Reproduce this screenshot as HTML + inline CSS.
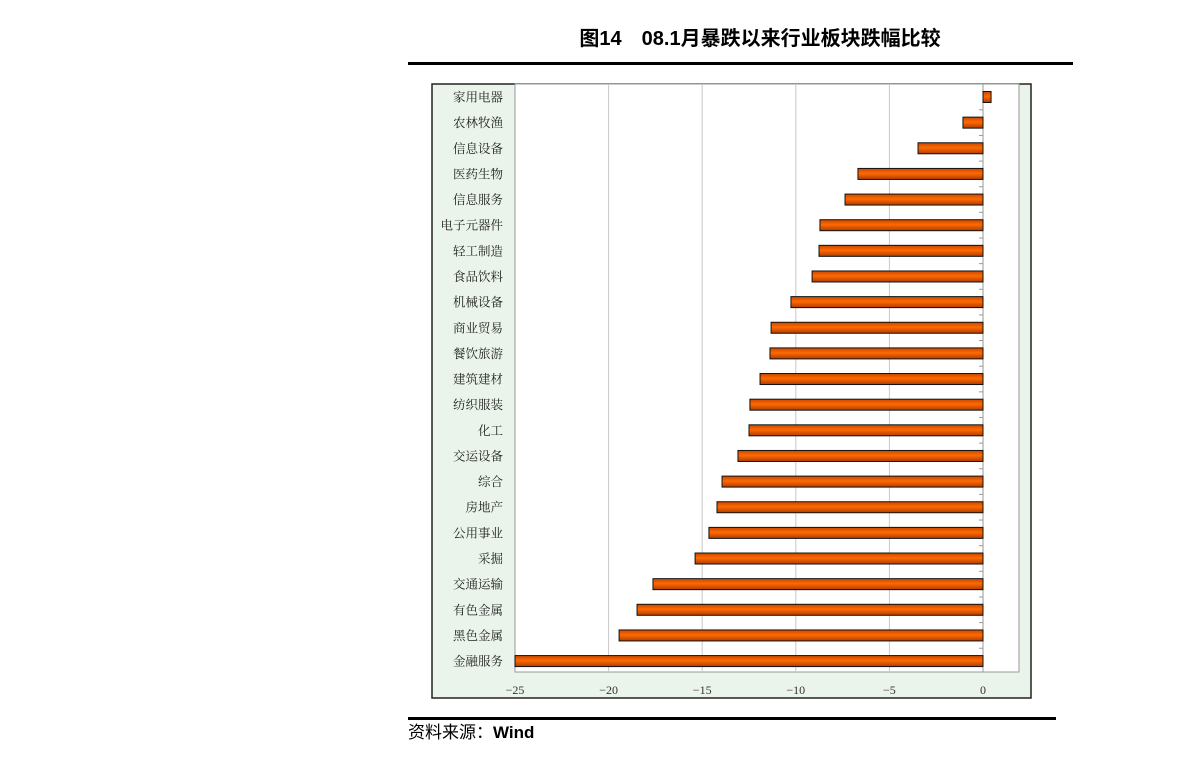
<!DOCTYPE html>
<html><head><meta charset="utf-8"><style>
body{margin:0;background:#fff;}
svg text{font-family:"Liberation Serif","Noto Serif CJK SC",serif;}
</style></head><body>
<svg width="1191" height="762" xmlns="http://www.w3.org/2000/svg">
<defs><linearGradient id="g" x1="0" y1="0" x2="0" y2="1"><stop offset="0" stop-color="#c84800"/><stop offset="0.45" stop-color="#ff6a00"/><stop offset="1" stop-color="#b03c00"/></linearGradient></defs>
<text x="760" y="45" text-anchor="middle" font-size="20" font-weight="bold" style="font-family:'Liberation Sans','Noto Sans CJK SC',sans-serif">图14　08.1月暴跌以来行业板块跌幅比较</text>
<rect x="408" y="62" width="665" height="3" fill="#000"/>
<rect x="432" y="84" width="599" height="614" fill="#eaf4ea" stroke="#222" stroke-width="1.5"/>
<rect x="515" y="84" width="504" height="588" fill="#fff" stroke="#999" stroke-width="1"/>
<g id="grid"></g><g id="bars"></g><g id="labels"></g><g id="ticks"></g>
<rect x="408" y="717" width="648" height="3" fill="#000"/>
<text x="408" y="738" font-size="17" style="font-family:'Liberation Sans','Noto Sans CJK SC',sans-serif">资料来源：<tspan font-weight="bold">Wind</tspan></text>
</svg>
<script>
const categories=["家用电器","农林牧渔","信息设备","医药生物","信息服务","电子元器件","轻工制造","食品饮料","机械设备","商业贸易","餐饮旅游","建筑建材","纺织服装","化工","交运设备","综合","房地产","公用事业","采掘","交通运输","有色金属","黑色金属","金融服务"];
const values=[0.43,-1.07,-3.47,-6.68,-7.37,-8.71,-8.76,-9.13,-10.26,-11.32,-11.38,-11.91,-12.45,-12.5,-13.09,-13.94,-14.21,-14.64,-15.38,-17.63,-18.48,-19.44,-25];
const tickValues=[-25,-20,-15,-10,-5,0];
const tickLabels=["−25","−20","−15","−10","−5","0"];
const NS="http://www.w3.org/2000/svg";
const x=v=>983+(v)*18.72;
const y=i=>97+i*25.64;
function mk(t,a,p){const e=document.createElementNS(NS,t);for(const k in a)e.setAttribute(k,a[k]);document.getElementById(p).appendChild(e);return e;}
tickValues.forEach((v,i)=>{
 if(v>-25&&v<0){const l=mk('line',{x1:x(v),x2:x(v),y1:84,y2:672,stroke:'#c8c8c8'},'grid');
 
 }
 const t=mk('text',{x:x(v),y:694,'text-anchor':'middle','font-size':12,fill:'#333'},'ticks');t.textContent=tickLabels[i];
 
 
});
const ax=mk('line',{x1:983,x2:983,y1:84,y2:672,stroke:'#999'},'grid');
categories.forEach((c,i)=>{
 const v=values[i];const x0=Math.min(x(0),x(v)),w=Math.abs(x(v)-x(0));
 const r=mk('rect',{x:x0,y:y(i)-5.5,width:w,height:11,fill:'url(#g)',stroke:'#111','stroke-width':1},'bars');
 
 
 const t=mk('text',{x:503,y:y(i)+4.5,'text-anchor':'end','font-size':12.5,fill:'#222'},'labels');t.textContent=c;
 
 
 if(i<categories.length-1){mk('line',{x1:979,x2:983,y1:y(i)+12.8,y2:y(i)+12.8,stroke:'#999'},'grid');}
});
</script>
</body></html>
